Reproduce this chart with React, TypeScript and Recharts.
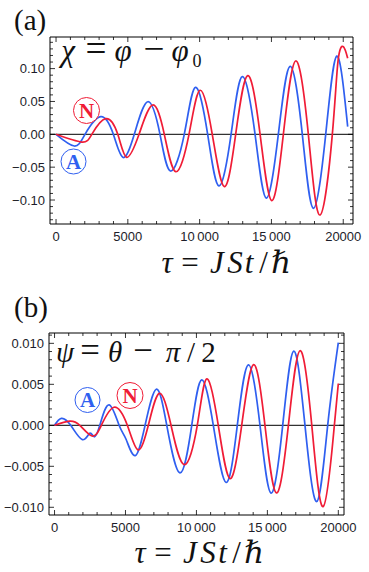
import React from 'react';
import { LineChart, Line, XAxis, YAxis, ReferenceLine } from 'recharts';

const BLUE = '#2f5ff0';
const RED = '#f01c36';
const TICK_FONT = '"Liberation Sans", Arial, sans-serif';
const MATH_FONT = '"Liberation Serif", "DejaVu Serif", serif';

// shared x axis
const tauMajor = [0, 5000, 10000, 15000, 20000];
const tauLabels = ['0', '5000', '10\u2009000', '15\u2009000', '20000'];

// panel (a): chi = phi - phi0
const chiMajor = [-0.1, -0.05, 0, 0.05, 0.1];
const chiLabels = ['\u22120.10', '\u22120.05', '0.00', '0.05', '0.10'];

const tauBlueA = [0, 1270, 2020, 3110, 3990, 4670, 5450, 6390, 7240, 7970, 8930, 9710, 10560, 11340, 12190, 12970, 13860, 14640, 15480, 16300, 17150, 17920, 18780, 19550, 20310];
const chiBlueA = [0, -0.0178, 0, 0.0268, 0, -0.0353, 0, 0.0496, 0, -0.0559, 0, 0.0715, 0, -0.0785, 0, 0.0877, 0, -0.097, 0, 0.1035, 0, -0.1127, 0, 0.119, 0.0116];

const tauRedA = [0, 1780, 2490, 3450, 4300, 4920, 5780, 6730, 7540, 8340, 9260, 10030, 10880, 11720, 12510, 13350, 14210, 15020, 15830, 16690, 17570, 18380, 19240, 19640, 20010, 20310];
const chiRedA = [0, -0.0118, 0, 0.0238, 0, -0.035, 0, 0.0446, 0, -0.0569, 0, 0.067, 0, -0.0797, 0, 0.0892, 0, -0.101, 0, 0.1116, 0, -0.1228, 0, 0.112, 0.1333, 0.1157];

// panel (b): psi = theta - pi/2
const psiMajor = [-0.01, -0.005, 0, 0.005, 0.01];
const psiLabels = ['\u22120.010', '\u22120.005', '0.000', '0.005', '0.010'];

const tauBlueB = [0, 480, 1140, 1960, 2480, 2800, 3190, 3840, 4550, 5040, 5690, 6380, 7170, 7910, 8840, 9670, 10370, 11190, 12090, 12880, 13660, 14480, 15260, 16080, 16860, 17650, 18480, 19250, 20000];
const psiBlueB = [0, 0.00085, 0, -0.00175, -0.00098, -0.0014, 0, 0.0025, 0, -0.0017, -0.0037, 0, 0.0044, 0, -0.0058, 0, 0.00555, 0, -0.00697, 0, 0.00738, 0, -0.00827, 0, 0.00905, 0, -0.0093, 0, 0.0101];

const tauRedB = [0, 1040, 1780, 2640, 3300, 4190, 5130, 5880, 6610, 7390, 8210, 9130, 10060, 10730, 11540, 12370, 13190, 14030, 14830, 15640, 16480, 17300, 18130, 18940, 19720, 20000];
const psiRedB = [0, 0.0005, 0, -0.0013, 0, 0.0022, 0, -0.003, 0, 0.0039, 0, -0.0048, 0, 0.00567, 0, -0.0065, 0, 0.0074, 0, -0.00825, 0, 0.0091, 0, -0.0099, 0, 0.0051];

const zip = (ts: number[], vs: number[]) => ts.map((t, i) => ({ t, v: vs[i] }));

const steps = (lo: number, hi: number, step: number) => {
  const out: number[] = [];
  for (let k = Math.ceil(lo / step - 1e-9); k * step <= hi + 1e-12; k++) out.push(+(k * step).toFixed(6));
  return out;
};

const majorIndex = (v: number, major: number[]) => major.findIndex((m) => Math.abs(m - v) < 1e-9);

type PanelProps = {
  top: number;
  margin: { top: number; right: number; bottom: number; left: number };
  xDomain: [number, number];
  yDomain: [number, number];
  yMajor: number[];
  yLabels: string[];
  yMinor: number;
  blue: { t: number; v: number }[];
  red: { t: number; v: number }[];
};

function Panel({ top, margin, xDomain, yDomain, yMajor, yLabels, yMinor, blue, red }: PanelProps) {
  const xTicks = steps(0, xDomain[1], 1000);
  const yTicks = steps(yDomain[0], yDomain[1], yMinor);

  const bottomTick = (p: any) => {
    const i = majorIndex(p.payload.value, tauMajor);
    return (
      <g>
        <line x1={p.x} x2={p.x} y1={p.y} y2={p.y - (i >= 0 ? 5 : 3)} stroke="#000" strokeWidth={0.8} />
        {i >= 0 && (
          <text x={p.x} y={p.y + 16.5} textAnchor="middle" fontSize={13} fontFamily={TICK_FONT} fill="#1d1d2a">
            {tauLabels[i]}
          </text>
        )}
      </g>
    );
  };
  const topTick = (p: any) => {
    const i = majorIndex(p.payload.value, tauMajor);
    return <line x1={p.x} x2={p.x} y1={p.y} y2={p.y + (i >= 0 ? 5 : 3)} stroke="#000" strokeWidth={0.8} />;
  };
  const leftTick = (p: any) => {
    const i = majorIndex(p.payload.value, yMajor);
    return (
      <g>
        <line x1={p.x} x2={p.x + (i >= 0 ? 5 : 3)} y1={p.y} y2={p.y} stroke="#000" strokeWidth={0.8} />
        {i >= 0 && (
          <text x={p.x - 5} y={p.y + 4.5} textAnchor="end" fontSize={13} fontFamily={TICK_FONT} fill="#1d1d2a">
            {yLabels[i]}
          </text>
        )}
      </g>
    );
  };
  const rightTick = (p: any) => {
    const i = majorIndex(p.payload.value, yMajor);
    return <line x1={p.x} x2={p.x - (i >= 0 ? 5 : 3)} y1={p.y} y2={p.y} stroke="#000" strokeWidth={0.8} />;
  };

  return (
    <div style={{ position: 'absolute', left: 0, top }}>
      <LineChart width={369} height={286} margin={margin}>
        <XAxis
          xAxisId="b"
          type="number"
          dataKey="t"
          domain={xDomain}
          allowDataOverflow
          ticks={xTicks}
          interval={0}
          height={30}
          tickSize={0}
          tickMargin={0}
          tickLine={false}
          tick={bottomTick}
          axisLine={{ stroke: '#000' }}
        />
        <XAxis
          xAxisId="t"
          orientation="top"
          type="number"
          dataKey="t"
          domain={xDomain}
          allowDataOverflow
          ticks={xTicks}
          interval={0}
          height={1}
          tickSize={0}
          tickMargin={0}
          tickLine={false}
          tick={topTick}
          axisLine={{ stroke: '#000' }}
        />
        <YAxis
          yAxisId="l"
          type="number"
          domain={yDomain}
          allowDataOverflow
          ticks={yTicks}
          interval={0}
          width={44}
          tickSize={0}
          tickMargin={0}
          tickLine={false}
          tick={leftTick}
          axisLine={{ stroke: '#000' }}
        />
        <YAxis
          yAxisId="r"
          orientation="right"
          type="number"
          domain={yDomain}
          allowDataOverflow
          ticks={yTicks}
          interval={0}
          width={1}
          tickSize={0}
          tickMargin={0}
          tickLine={false}
          tick={rightTick}
          axisLine={{ stroke: '#000' }}
        />
        <ReferenceLine xAxisId="b" yAxisId="l" y={0} stroke="#000" strokeWidth={1} />
        <Line
          xAxisId="b"
          yAxisId="l"
          data={blue}
          dataKey="v"
          type="natural"
          stroke={BLUE}
          strokeWidth={1.7}
          dot={false}
          isAnimationActive={false}
        />
        <Line
          xAxisId="t"
          yAxisId="r"
          data={red}
          dataKey="v"
          type="natural"
          stroke={RED}
          strokeWidth={1.7}
          dot={false}
          isAnimationActive={false}
        />
      </LineChart>
    </div>
  );
}

function Circled({ cx, cy, r, letter, color }: { cx: number; cy: number; r: number; letter: string; color: string }) {
  return (
    <g>
      <circle cx={cx} cy={cy} r={r} fill="#fff" stroke={color} strokeWidth={1} />
      <text x={cx} y={cy + 7} textAnchor="middle" fontSize={21} fontWeight="bold" fontFamily={MATH_FONT} fill={color}>
        {letter}
      </text>
    </g>
  );
}

// a math label: each piece centred at its own x, italic unless marked upright
type Piece = { s: string; cx: number; up?: boolean; sub?: boolean; op?: boolean };

function MathLabel({ y, size, pieces, opScale = 1.2 }: { y: number; size: number; pieces: Piece[]; opScale?: number }) {
  return (
    <text fontFamily={MATH_FONT} fill="#111" textAnchor="middle">
      {pieces.map((p, i) => (
        <tspan
          key={i}
          x={p.cx}
          y={p.sub ? y + 6 : y}
          fontSize={p.sub ? 18 : p.op ? size * opScale : size}
          fontStyle={p.up || p.op ? 'normal' : 'italic'}
        >
          {p.s}
        </tspan>
      ))}
    </text>
  );
}

export default function App() {
  return (
    <div style={{ position: 'absolute', left: 0, top: 0, width: 369, height: 572, background: '#fff' }}>
      <Panel
        top={0}
        margin={{ top: 36, right: 15, bottom: 32, left: 6 }}
        xDomain={[-420, 20680]}
        yDomain={[-0.1365, 0.1481]}
        yMajor={chiMajor}
        yLabels={chiLabels}
        yMinor={0.01}
        blue={zip(tauBlueA, chiBlueA)}
        red={zip(tauRedA, chiRedA)}
      />
      <Panel
        top={286}
        margin={{ top: 46, right: 24, bottom: 27, left: 5 }}
        xDomain={[-390, 20400]}
        yDomain={[-0.01094, 0.01126]}
        yMajor={psiMajor}
        yLabels={psiLabels}
        yMinor={0.001}
        blue={zip(tauBlueB, psiBlueB)}
        red={zip(tauRedB, psiRedB)}
      />
      <svg width={369} height={572} style={{ position: 'absolute', left: 0, top: 0, pointerEvents: 'none' }}>
        <g fontFamily={MATH_FONT} fill="#111">
          <text x={14} y={30} fontSize={29}>(a)</text>
          <text x={14} y={317} fontSize={29}>(b)</text>
        </g>
        <MathLabel
          y={61}
          size={31}
          pieces={[
            { s: 'χ', cx: 68 },
            { s: '=', cx: 96, op: true },
            { s: 'φ', cx: 123 },
            { s: '−', cx: 154, op: true },
            { s: 'φ', cx: 180 },
            { s: '0', cx: 197, up: true, sub: true },
          ]}
        />
        <MathLabel
          y={362}
          size={29}
          pieces={[
            { s: 'ψ', cx: 65 },
            { s: '=', cx: 90, op: true },
            { s: 'θ', cx: 115 },
            { s: '−', cx: 143, op: true },
            { s: 'π', cx: 173 },
            { s: '/', cx: 191, up: true },
            { s: '2', cx: 208.5, up: true },
          ]}
        />
        <MathLabel
          y={273}
          size={31}
          opScale={1}
          pieces={[
            { s: 'τ', cx: 167 },
            { s: '=', cx: 190, op: true },
            { s: 'J', cx: 217 },
            { s: 'S', cx: 235 },
            { s: 't', cx: 249 },
            { s: '/', cx: 263.5, up: true },
            { s: 'ℏ', cx: 281 },
          ]}
        />
        <MathLabel
          y={563}
          size={31}
          opScale={1}
          pieces={[
            { s: 'τ', cx: 140 },
            { s: '=', cx: 163, op: true },
            { s: 'J', cx: 190 },
            { s: 'S', cx: 208 },
            { s: 't', cx: 222.5 },
            { s: '/', cx: 236.5, up: true },
            { s: 'ℏ', cx: 254 },
          ]}
        />
        <Circled cx={86.5} cy={110.5} r={13} letter="N" color={RED} />
        <Circled cx={73.5} cy={161.5} r={12.5} letter="A" color={BLUE} />
        <Circled cx={87.5} cy={400} r={12.5} letter="A" color={BLUE} />
        <Circled cx={130} cy={395.5} r={13} letter="N" color={RED} />
      </svg>
    </div>
  );
}
